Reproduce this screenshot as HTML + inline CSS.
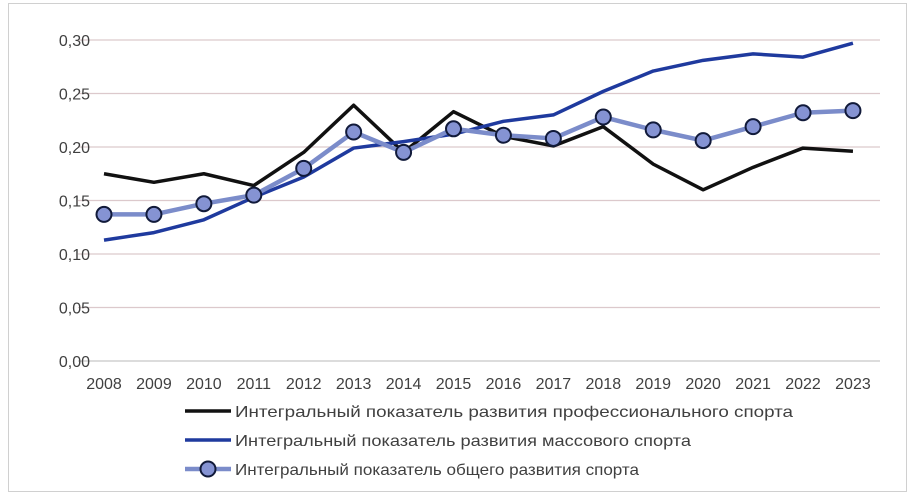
<!DOCTYPE html>
<html><head><meta charset="utf-8"><style>
body{margin:0;background:#fff;}
svg{display:block;font-family:"Liberation Sans",sans-serif;}
</style></head><body>
<svg id="chart" width="915" height="501" viewBox="0 0 915 501">
<rect x="8.5" y="3.5" width="898" height="488" fill="#fff" stroke="#d0d0d0"/>
<g id="grid"></g><g id="ylabels"></g><g id="xlabels"></g><g id="series"></g><g id="legend"></g>
</svg>
<script>
const years=["2008","2009","2010","2011","2012","2013","2014","2015","2016","2017","2018","2019","2020","2021","2022","2023"];
const yTicks=[0,0.05,0.10,0.15,0.20,0.25,0.30];
const yTickLabels=["0,00","0,05","0,10","0,15","0,20","0,25","0,30"];
const proValues=[0.175,0.167,0.175,0.164,0.195,0.239,0.195,0.233,0.210,0.201,0.219,0.184,0.160,0.181,0.199,0.196];
const massValues=[0.113,0.120,0.132,0.153,0.172,0.199,0.205,0.212,0.224,0.230,0.252,0.271,0.281,0.287,0.284,0.297];
const generalValues=[0.137,0.137,0.147,0.155,0.180,0.214,0.195,0.217,0.211,0.208,0.228,0.216,0.206,0.219,0.232,0.234];
const legendLabels=["Интегральный показатель развития профессионального спорта","Интегральный показатель развития массового спорта","Интегральный показатель общего развития спорта"];
const legendWidths=[558,456,404];
const NS="http://www.w3.org/2000/svg";
const x=i=>104+i*49.93;
const y=v=>361-v*(321/0.30);
function mk(tag,attrs,parent,text){const e=document.createElementNS(NS,tag);for(const k in attrs)e.setAttribute(k,attrs[k]);if(text!=null)e.textContent=text;parent.appendChild(e);return e;}
const grid=document.getElementById('grid'),yl=document.getElementById('ylabels'),xl=document.getElementById('xlabels'),ser=document.getElementById('series'),leg=document.getElementById('legend');
yTicks.forEach((t,i)=>{
 const l=mk('line',{x1:78,x2:880,y1:y(t),y2:y(t),stroke:i===0?'#c8c8c8':'#dcc9cc','stroke-width':1.3},grid);
 
 
 const tx=mk('text',{x:90,y:y(t)+6,'text-anchor':'end','font-size':16,fill:'#404040'},yl,yTickLabels[i]);
 
 
});
years.forEach((yr,i)=>{
 const tx=mk('text',{x:x(i),y:389,'text-anchor':'middle','font-size':16,fill:'#404040'},xl,yr);
 
 
});
function line(vals,color,w,name){
 const p=mk('polyline',{points:vals.map((v,i)=>x(i)+','+y(v)).join(' '),fill:'none',stroke:color,'stroke-width':w,'stroke-linejoin':'round'},ser);
 
 
}
line(proValues,'#111','3.5','pro-sport-line');
line(massValues,'#1f3a9e','3.5','mass-sport-line');
line(generalValues,'#7b8cca','4.5','general-sport-line');
generalValues.forEach((v,i)=>{
 const c=mk('circle',{cx:x(i),cy:y(v),r:7.5,fill:'#8593d3',stroke:'#111a3a','stroke-width':2},ser);
 
 
});
const lc=[['#111',3.5],['#1f3a9e',3.5],['#7b8cca',4.5]];
legendLabels.forEach((lab,i)=>{
 const yy=411+i*29;
 const l=mk('line',{x1:185,x2:231,y1:yy,y2:yy,stroke:lc[i][0],'stroke-width':lc[i][1]},leg);
 
 
 if(i===2){const c=mk('circle',{cx:208,cy:yy,r:7.5,fill:'#8593d3',stroke:'#111a3a','stroke-width':2},leg);
  
  }
 const t=mk('text',{x:235,y:yy+6,'font-size':16,fill:'#404040',textLength:legendWidths[i],lengthAdjust:'spacingAndGlyphs'},leg,lab);
 
 
});
</script>
</body></html>
